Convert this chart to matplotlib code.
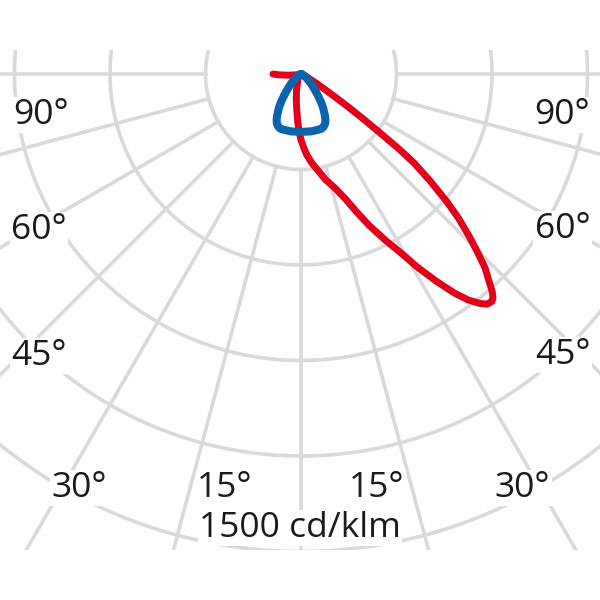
import numpy as np
import matplotlib
matplotlib.use("Agg")
import matplotlib.pyplot as plt
from matplotlib.patches import Rectangle

# luminous intensity, cd/klm, gamma angle in degrees (negative = left half)
red_angle = [-90, -88, -85, -82, -75, -60, -45, -30, -20, -15, -10, -7, -4, -2,
             0, 2, 4, 7, 10, 13, 16.6, 19.5, 22, 24.2, 27, 29.3, 31, 33, 35, 36.5,
             38, 39, 40, 40.6, 41.3, 42, 43.5, 44.8, 46, 47.5, 48.8, 50.3, 51.8,
             52.6, 53.3, 54.2, 55.2, 56, 57, 58.5, 60, 62, 65, 75, 90]
red_cd = [88, 72, 42, 20, 10, 8, 10, 18, 35, 55, 85, 110, 150, 178,
          207, 230, 254, 282, 308, 340, 374, 415, 468, 521, 588, 647, 706, 773, 840, 883,
          915, 930, 933, 927, 910, 886, 840, 785, 735, 672, 609, 530, 452,
          385, 311, 240, 176, 130, 94, 60, 38, 24, 15, 8, 5]

blue_angle = [0, 10, 20, 23, 26, 28, 30, 33, 35.5, 38, 41, 45, 49, 55, 62, 70, 80, 90]
blue_cd = [182, 183, 184, 181, 173, 163, 150, 128, 108, 88, 67, 48, 33, 20, 10, 5, 2, 0]

rings = [300, 600, 900, 1200, 1500]
spokes = [-90, -75, -60, -45, -30, -15, 0, 15, 30, 45, 60, 75, 90]
scale_label = "1500 cd/klm"

W = 600
cx, cy = 301, 74          # pole position in pixels (from top)
px_per_cd = 95.5 / 300
rmax = 1850
R = rmax * px_per_cd

fig = plt.figure(figsize=(6, 6), dpi=100)
ax = fig.add_axes([(cx - R) / W, (W - cy - R) / W, 2 * R / W, 2 * R / W],
                  projection="polar")
ax.set_theta_zero_location("S")
ax.set_ylim(0, rmax)
ax.grid(False)
ax.set_xticks([])
ax.set_yticks([])
ax.spines["polar"].set_visible(False)
ax.patch.set_visible(False)

clip = Rectangle((0, 50 / W), 1, 500 / W, transform=fig.transFigure)

grey = "#d9d9d9"
full = np.linspace(0, 2 * np.pi, 721)
for r in rings:
    ln, = ax.plot(full, np.full_like(full, r), color=grey, lw=2.6, zorder=1)
    ln.set_clip_path(clip)
for s in spokes:
    ln, = ax.plot(np.radians([s, s]), [rings[0], rmax], color=grey, lw=2.6, zorder=1)
    ln.set_clip_path(clip)

ra = np.radians(red_angle)
ax.plot(ra, red_cd, color="#e2001a", lw=5.0, solid_joinstyle="round",
        solid_capstyle="round", zorder=3)

ba = np.radians(blue_angle)
ba = np.concatenate([-ba[::-1], ba[1:]])
bc = np.concatenate([blue_cd[::-1], blue_cd[1:]])
ax.plot(ba, bc, color="#0a64ad", lw=5.8, solid_joinstyle="round",
        solid_capstyle="round", zorder=4)

box = dict(facecolor="white", edgecolor="none", pad=1)
kw = dict(fontsize=25.5, family=["Open Sans", "DejaVu Sans"], color="#1a1a1a",
          ha="center", va="baseline", bbox=box, zorder=5)
labels = [("90°", 41.5, 124), ("90°", 562.5, 124),
          ("60°", 39, 239), ("60°", 562.5, 238),
          ("45°", 39, 365), ("45°", 562.5, 364),
          ("30°", 79, 497), ("30°", 522.5, 497),
          ("15°", 225, 497), ("15°", 377, 497)]
for txt, x, y in labels:
    fig.text(x / W, 1 - y / W, txt, **kw)
fig.text(300 / W, 1 - 537 / W, scale_label, **kw)

fig.savefig("out.png", dpi=100, facecolor="white")
